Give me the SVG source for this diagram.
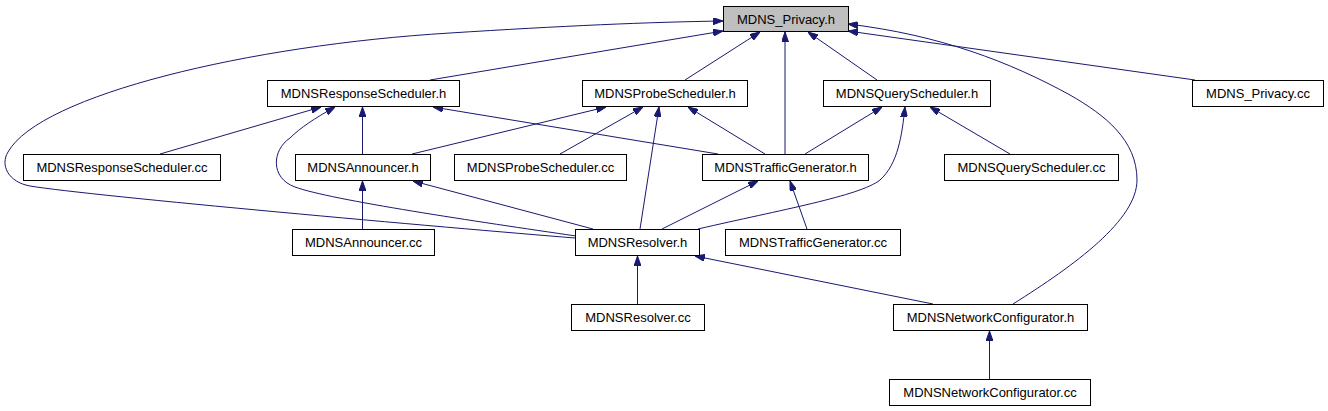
<svg xmlns="http://www.w3.org/2000/svg" width="1328" height="411" viewBox="0 0 1328 411">
<defs>
<style>
.n rect{fill:#fff;stroke:#000;stroke-width:1}
.n text{font-family:"Liberation Sans",Arial,sans-serif;font-size:13px;text-anchor:middle;fill:#000}
#edges path{fill:none;stroke:#191970;stroke-width:1;marker-end:url(#ah)}
</style>
<marker id="ah" viewBox="0 0 10 7" refX="10" refY="3.5" markerWidth="10" markerHeight="7" markerUnits="userSpaceOnUse" orient="auto">
<path d="M0,0 L10,3.5 L0,7 z" fill="#191970" stroke="#191970" stroke-width="1"/>
</marker>
</defs>
<rect width="1328" height="411" fill="#fff"/>
<g id="edges">
<path d="M430,80 L723,31"/>
<path d="M685,80 L760,32"/>
<path d="M785,154 L785,32"/>
<path d="M877,80 L808,32"/>
<path d="M1195,80 L848,31"/>
<path d="M575,238 C450,228 90,196 30,186 C8,182 0,165 8,152 C40,95 250,45 450,33 C560,26 650,22 723,21"/>
<path d="M1013,304 C1075,265 1137,220 1137,180 C1137,140 1105,115 1070,95 C1010,62 940,35 848,24"/>
<path d="M576,236 C480,222 330,200 295,187 C270,178 272,150 290,138 C300,128 315,118 335,107"/>
<path d="M160,154 L321,107"/>
<path d="M362.5,154 L362.5,107"/>
<path d="M718,154 L433,107"/>
<path d="M412,154 L606,107"/>
<path d="M560,154 L643,107"/>
<path d="M640,229 L659,107"/>
<path d="M765,154 L688,107"/>
<path d="M805,154 L882,107"/>
<path d="M698,229 C780,210 860,196 880,180 C898,164 902,135 905,107"/>
<path d="M1010,154 L930,107"/>
<path d="M362.5,229 L362.5,181"/>
<path d="M593,229 L413,181"/>
<path d="M662,229 L758,181"/>
<path d="M807,229 L790,181"/>
<path d="M637.5,304 L637.5,256"/>
<path d="M933,304 L695,256"/>
<path d="M989.5,379 L989.5,331"/>
</g>
<g id="n_privacy_h" class="n"><rect x="723.5" y="6.5" width="125" height="25" style="fill:#bfbfbf"/><text x="786" y="24">MDNS_Privacy.h</text></g>
<g id="n_response_h" class="n"><rect x="267.5" y="80.5" width="192" height="26"/><text x="363.5" y="98">MDNSResponseScheduler.h</text></g>
<g id="n_probe_h" class="n"><rect x="582.5" y="80.5" width="165" height="26"/><text x="665" y="98">MDNSProbeScheduler.h</text></g>
<g id="n_query_h" class="n"><rect x="823.5" y="80.5" width="167" height="26"/><text x="907" y="98">MDNSQueryScheduler.h</text></g>
<g id="n_privacy_cc" class="n"><rect x="1192.5" y="80.5" width="131" height="26"/><text x="1258" y="98">MDNS_Privacy.cc</text></g>
<g id="n_response_cc" class="n"><rect x="23.5" y="154.5" width="197" height="26"/><text x="122" y="172">MDNSResponseScheduler.cc</text></g>
<g id="n_announcer_h" class="n"><rect x="295.5" y="154.5" width="135" height="26"/><text x="363" y="172">MDNSAnnouncer.h</text></g>
<g id="n_probe_cc" class="n"><rect x="454.5" y="154.5" width="172" height="26"/><text x="540.5" y="172">MDNSProbeScheduler.cc</text></g>
<g id="n_traffic_h" class="n"><rect x="702.5" y="154.5" width="166" height="26"/><text x="785.5" y="172">MDNSTrafficGenerator.h</text></g>
<g id="n_query_cc" class="n"><rect x="944.5" y="154.5" width="174" height="26"/><text x="1031.5" y="172">MDNSQueryScheduler.cc</text></g>
<g id="n_announcer_cc" class="n"><rect x="292.5" y="229.5" width="142" height="26"/><text x="363.5" y="247">MDNSAnnouncer.cc</text></g>
<g id="n_resolver_h" class="n"><rect x="575.5" y="229.5" width="124" height="26"/><text x="637.5" y="247">MDNSResolver.h</text></g>
<g id="n_traffic_cc" class="n"><rect x="725.5" y="229.5" width="175" height="26"/><text x="813" y="247">MDNSTrafficGenerator.cc</text></g>
<g id="n_resolver_cc" class="n"><rect x="571.5" y="304.5" width="133" height="26"/><text x="638" y="322">MDNSResolver.cc</text></g>
<g id="n_netconf_h" class="n"><rect x="893.5" y="304.5" width="194" height="26"/><text x="990.5" y="322">MDNSNetworkConfigurator.h</text></g>
<g id="n_netconf_cc" class="n"><rect x="889.5" y="379.5" width="201" height="26"/><text x="990" y="397">MDNSNetworkConfigurator.cc</text></g>
</svg>
